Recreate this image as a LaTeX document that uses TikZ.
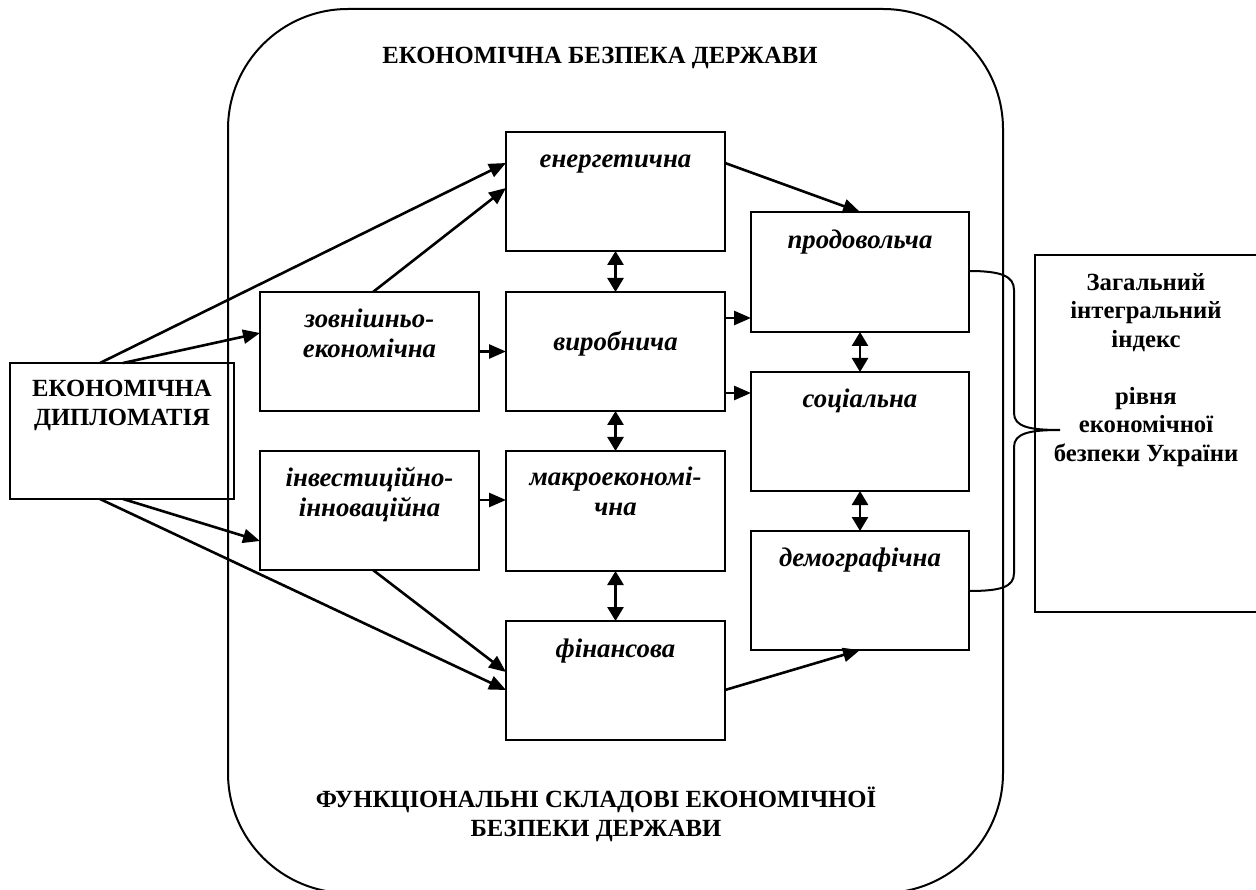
\documentclass[tikz,border=0pt]{standalone}
\usepackage{fontspec}
\setmainfont{Liberation Serif}
\usetikzlibrary{arrows.meta}
\newcommand\fsz{\fontsize{24.7}{29}\selectfont}
\newcommand\fsi{\fontsize{26.8}{29.5}\selectfont}
\newcommand\hs{\rule{0pt}{18pt}}
\begin{document}
\begin{tikzpicture}[x=1pt,y=-1pt,
  box/.style={draw, line width=2.4pt, outer sep=0pt, inner sep=0pt, rectangle},
  lbl/.style={inner sep=0pt, anchor=north, align=center, font=\fsi\bfseries\itshape},
  blbl/.style={inner sep=0pt, anchor=north, align=center, font=\fsz\bfseries},
  arr/.style={line width=2.6pt, -{Triangle[length=17pt,width=14pt]}},
  darr/.style={line width=2.6pt, {Triangle[length=14pt,width=16pt]}-{Triangle[length=14pt,width=16pt]}}
]
\clip (0,0) rectangle (1256,890);
\fill[white] (0,0) rectangle (1256,890);
% outer rounded frame
\node[draw, line width=2pt, rounded corners=120pt, minimum width=775pt, minimum height=884pt, outer sep=0pt] (outer) at (615.5,451) {};
\node[blbl] (title) at (600,47) {ЕКОНОМІЧНА БЕЗПЕКА ДЕРЖАВИ};
\node[blbl] (subtitle) at (596,787) {ФУНКЦІОНАЛЬНІ СКЛАДОВІ ЕКОНОМІЧНОЇ\\БЕЗПЕКИ ДЕРЖАВИ};
% boxes
\node[box, minimum width=224pt, minimum height=136pt] (dip) at (122,431) {};
\node[box, minimum width=219pt, minimum height=119pt] (zov) at (369.5,351.5) {};
\node[box, minimum width=219pt, minimum height=119pt] (inv) at (369.5,510.5) {};
\node[box, minimum width=219pt, minimum height=119pt] (ener) at (615.5,191.5) {};
\node[box, minimum width=219pt, minimum height=119pt] (vyr) at (615.5,351.5) {};
\node[box, minimum width=219pt, minimum height=120pt] (makro) at (615.5,511) {};
\node[box, minimum width=219pt, minimum height=119pt] (fin) at (615.5,680.5) {};
\node[box, minimum width=218pt, minimum height=120pt] (prod) at (860,272) {};
\node[box, minimum width=218pt, minimum height=119pt] (soc) at (860,431.5) {};
\node[box, minimum width=218pt, minimum height=119pt] (dem) at (860,590.5) {};
\node[box, minimum width=227pt, minimum height=357pt] (idx) at (1148.5,433.5) {};
% labels
\node[blbl] (tdip) at (122,380) {ЕКОНОМІЧНА\\ДИПЛОМАТІЯ};
\node[lbl] (tzov) at (369.5,309) {\hs зовнішньо-\\економічна};
\node[lbl] (tinv) at (369.5,467) {\hs інвестиційно-\\інноваційна};
\node[lbl] (tener) at (615.5,149) {\hs енергетична};
\node[lbl] (tvyr) at (615.5,331) {\hs виробнича};
\node[lbl] (tmakro) at (615.5,467) {\hs макроекономі-\\чна};
\node[lbl] (tfin) at (615.5,639) {\hs фінансова};
\node[lbl] (tprod) at (860,230) {\hs продовольча};
\node[lbl] (tsoc) at (860,389) {\hs соціальна};
\node[lbl] (tdem) at (860,548) {\hs демографічна};
\node[blbl, font=\fontsize{24.7}{28.5}\selectfont\bfseries] (tidx) at (1146,273) {Загальний\\інтегральний\\індекс\\[28.5pt]рівня\\економічної\\безпеки України};
% arrows
\draw[arr] ([xshift=-22pt]dip.north) -- ([yshift=28.5pt]ener.west);
\draw[arr] ([xshift=1pt]dip.north) -- ([yshift=18.5pt]zov.west);
\draw[arr] ([xshift=1pt]dip.south) -- ([yshift=-30.5pt]inv.west);
\draw[arr] ([xshift=-22pt]dip.south) -- ([yshift=-9.5pt]fin.west);
\draw[arr] ([xshift=3.5pt]inv.south) -- ([yshift=8.5pt]fin.west);
\draw[arr] ([xshift=3.5pt]zov.north) -- ([yshift=3.5pt]ener.west);
\draw[arr] (zov.east) -- (vyr.west);
\draw[arr] ([yshift=10.5pt]inv.east) -- ([yshift=11pt]makro.west);
\draw[arr] ([yshift=28.5pt]ener.east) -- (prod.north);
\draw[arr] ([yshift=33.5pt]vyr.east) -- ([yshift=-46pt]prod.west);
\draw[arr] ([yshift=-41.5pt]vyr.east) -- ([yshift=38.5pt]soc.west);
\draw[arr] ([yshift=-9.5pt]fin.east) -- (dem.south);
\draw[darr] (ener.south) -- (vyr.north);
\draw[darr] (vyr.south) -- (makro.north);
\draw[darr] (makro.south) -- (fin.north);
\draw[darr] (prod.south) -- (soc.north);
\draw[darr] (soc.south) -- (dem.north);
% brace
\coordinate (b1) at (1014,290);
\coordinate (b2) at (1014,413);
\coordinate (tip) at (1060,430);
\coordinate (b3) at (1014,447);
\coordinate (b4) at (1014,573);
\draw[line width=2pt] ([yshift=1pt]prod.east) .. controls +(32,0) and +(0,-14) .. (b1) -- (b2)
  .. controls +(0,14) and +(-30,0) .. (tip)
  .. controls +(-30,0) and +(0,-14) .. (b3) -- (b4)
  .. controls +(0,14) and +(32,0) .. ([yshift=-0.5pt]dem.east);
\end{tikzpicture}
\end{document}
